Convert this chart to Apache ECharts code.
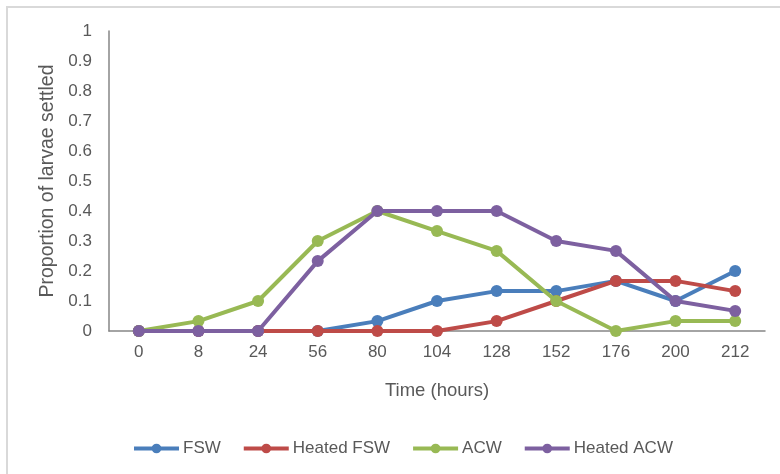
<!DOCTYPE html>
<html>
<head>
<meta charset="utf-8">
<script src="https://cdn.jsdelivr.net/npm/echarts@6/dist/echarts.min.js"></script>
<style>html,body{margin:0;padding:0;background:#fff;}#c{width:780px;height:474px;}</style>
</head>
<body>
<div id="c"></div>
<script>
const categories = ['0','8','24','56','80','104','128','152','176','200','212'];
const fsw = [0,0,0,0,0.033,0.1,0.133,0.133,0.167,0.1,0.2];
const heatedFsw = [0,0,0,0,0,0,0.033,0.1,0.167,0.167,0.133];
const acw = [0,0.033,0.1,0.3,0.4,0.333,0.267,0.1,0,0.033,0.033];
const heatedAcw = [0,0,0,0.233,0.4,0.4,0.4,0.3,0.267,0.1,0.067];
const seriesNames = ['FSW','Heated FSW','ACW','Heated ACW'];
const colors = ['#4A7EBB','#BE4B48','#98B954','#7D60A0'];
const font = '"Liberation Sans",Arial,sans-serif';

const chart = echarts.init(document.getElementById('c'));
const mk = (name, data, i) => ({
  name, type: 'line', data, symbol: 'circle', symbolSize: 12,
  lineStyle: {width: 4, color: colors[i]}, itemStyle: {color: colors[i]},
  z: 2 + i, animation: false
});
chart.setOption({
  animation: false,
  graphic: [{type:'rect', shape:{x:7, y:7, width:800, height:500}, style:{fill:'none', stroke:'#d9d9d9', lineWidth:2}, silent:true}],
  grid: {left: 109, right: 15, top: 31, bottom: 143},
  legend: {
    left: 127, top: 435, itemWidth: 45, itemHeight: 12, itemGap: 21,
    lineStyle: {width: 4},
    textStyle: {fontFamily: font, fontSize: 17, color: '#595959', padding:[0,0,0,-1]},
    data: seriesNames
  },
  xAxis: {
    type: 'category', data: categories, boundaryGap: true,
    name: 'Time (hours)', nameLocation: 'middle', nameGap: 50,
    nameTextStyle: {fontFamily: font, fontSize: 18.5, color: '#595959'},
    axisLine: {lineStyle: {color: '#868686', width: 1.5}},
    axisTick: {show: false},
    axisLabel: {fontFamily: font, fontSize: 17, color: '#595959', margin: 13}
  },
  yAxis: {
    type: 'value', min: 0, max: 1, interval: 0.1,
    name: 'Proportion of larvae settled', nameLocation: 'middle', nameGap: 50,
    nameTextStyle: {fontFamily: font, fontSize: 19.5, color: '#595959'},
    axisLine: {show: true, lineStyle: {color: '#868686', width: 1.5}},
    axisTick: {show: false},
    splitLine: {show: false},
    axisLabel: {fontFamily: font, fontSize: 17, color: '#595959', margin: 17,
      formatter: v => String(Math.round(v*10)/10)}
  },
  series: [mk(seriesNames[0], fsw, 0), mk(seriesNames[1], heatedFsw, 1), mk(seriesNames[2], acw, 2), mk(seriesNames[3], heatedAcw, 3)]
});
</script>
</body>
</html>
